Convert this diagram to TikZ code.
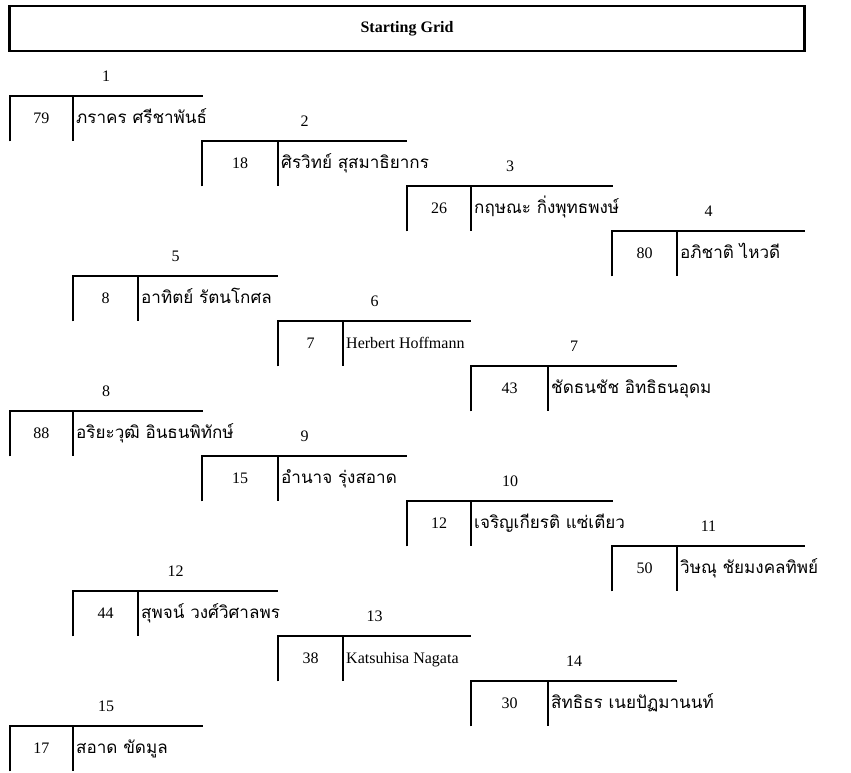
\documentclass[tikz,border=0pt]{standalone}
\usepackage{fontspec}
\setmainfont{Liberation Serif}
\newfontfamily\thaifont[Script=Thai]{Loma}
\usepackage{tikz}
\usetikzlibrary{positioning}
\tikzset{
    titlenode/.style = {draw, rectangle, line width=1.6pt, minimum width=596.25pt, minimum height=33.75pt,
      font=\fontsize{12}{14}\selectfont\bfseries},
    posnode/.style = {draw=none, fill=none, inner sep=0pt, font=\fontsize{12}{14}\selectfont},
    numnode/.style = {draw=none, rectangle, inner sep=0pt, minimum height=33.75pt, minimum width=#1*0.75pt,
      font=\fontsize{12}{14}\selectfont},
    thainode/.style = {draw=none, fill=none, inner sep=2pt, font=\thaifont\fontsize{12.8}{15}\selectfont},
    latinnode/.style = {draw=none, fill=none, inner sep=2pt, font=\fontsize{12}{14}\selectfont},
    gridline/.style = {black, line width=1.6pt}
}

\begin{document}
\begin{tikzpicture}[x=0.75pt, y=-0.75pt]
\useasboundingbox (0,0) rectangle (851,773);
\node [titlenode, name=title] at (407,28.5) {Starting Grid};

\node [posnode, name=pos1] at (106,76) {1};
\node [numnode=63, name=num1] at (41.5,118.5) {79};
\node [thainode, name=driver1, base right=0pt of num1] {ภราคร ศรีชาพันธ์};
\draw [gridline] (num1.south west) |- (num1.north east) -- ++(130,0);
\draw [gridline] (num1.north east) -- (num1.south east);

\node [posnode, name=pos2] at (304.5,121) {2};
\node [numnode=76, name=num2] at (240,163.5) {18};
\node [thainode, name=driver2, base right=0pt of num2] {ศิรวิทย์ สุสมาธิยากร};
\draw [gridline] (num2.south west) |- (num2.north east) -- ++(129,0);
\draw [gridline] (num2.north east) -- (num2.south east);

\node [posnode, name=pos3] at (510,166) {3};
\node [numnode=64, name=num3] at (439,208.5) {26};
\node [thainode, name=driver3, base right=0pt of num3] {กฤษณะ กิ่งพุทธพงษ์};
\draw [gridline] (num3.south west) |- (num3.north east) -- ++(142,0);
\draw [gridline] (num3.north east) -- (num3.south east);

\node [posnode, name=pos4] at (708.5,211) {4};
\node [numnode=65, name=num4] at (644.5,253.5) {80};
\node [thainode, name=driver4, base right=0pt of num4] {อภิชาติ ไหวดี};
\draw [gridline] (num4.south west) |- (num4.north east) -- ++(128,0);
\draw [gridline] (num4.north east) -- (num4.south east);

\node [posnode, name=pos5] at (175.5,256) {5};
\node [numnode=65, name=num5] at (105.5,298.5) {8};
\node [thainode, name=driver5, base right=0pt of num5] {อาทิตย์ รัตนโกศล};
\draw [gridline] (num5.south west) |- (num5.north east) -- ++(140,0);
\draw [gridline] (num5.north east) -- (num5.south east);

\node [posnode, name=pos6] at (374.5,301) {6};
\node [numnode=65, name=num6] at (310.5,343.5) {7};
\node [latinnode, name=driver6, base right=0pt of num6] {Herbert Hoffmann};
\draw [gridline] (num6.south west) |- (num6.north east) -- ++(128,0);
\draw [gridline] (num6.north east) -- (num6.south east);

\node [posnode, name=pos7] at (574,346) {7};
\node [numnode=77, name=num7] at (509.5,388.5) {43};
\node [thainode, name=driver7, base right=0pt of num7] {ชัดธนชัช อิทธิธนอุดม};
\draw [gridline] (num7.south west) |- (num7.north east) -- ++(129,0);
\draw [gridline] (num7.north east) -- (num7.south east);

\node [posnode, name=pos8] at (106,391) {8};
\node [numnode=63, name=num8] at (41.5,433.5) {88};
\node [thainode, name=driver8, base right=0pt of num8] {อริยะวุฒิ อินธนพิทักษ์};
\draw [gridline] (num8.south west) |- (num8.north east) -- ++(130,0);
\draw [gridline] (num8.north east) -- (num8.south east);

\node [posnode, name=pos9] at (304.5,436) {9};
\node [numnode=76, name=num9] at (240,478.5) {15};
\node [thainode, name=driver9, base right=0pt of num9] {อำนาจ รุ่งสอาด};
\draw [gridline] (num9.south west) |- (num9.north east) -- ++(129,0);
\draw [gridline] (num9.north east) -- (num9.south east);

\node [posnode, name=pos10] at (510,481) {10};
\node [numnode=64, name=num10] at (439,523.5) {12};
\node [thainode, name=driver10, base right=0pt of num10] {เจริญเกียรติ แซ่เตียว};
\draw [gridline] (num10.south west) |- (num10.north east) -- ++(142,0);
\draw [gridline] (num10.north east) -- (num10.south east);

\node [posnode, name=pos11] at (708.5,526) {11};
\node [numnode=65, name=num11] at (644.5,568.5) {50};
\node [thainode, name=driver11, base right=0pt of num11] {วิษณุ ชัยมงคลทิพย์};
\draw [gridline] (num11.south west) |- (num11.north east) -- ++(128,0);
\draw [gridline] (num11.north east) -- (num11.south east);

\node [posnode, name=pos12] at (175.5,571) {12};
\node [numnode=65, name=num12] at (105.5,613.5) {44};
\node [thainode, name=driver12, base right=0pt of num12] {สุพจน์ วงศ์วิศาลพร};
\draw [gridline] (num12.south west) |- (num12.north east) -- ++(140,0);
\draw [gridline] (num12.north east) -- (num12.south east);

\node [posnode, name=pos13] at (374.5,616) {13};
\node [numnode=65, name=num13] at (310.5,658.5) {38};
\node [latinnode, name=driver13, base right=0pt of num13] {Katsuhisa Nagata};
\draw [gridline] (num13.south west) |- (num13.north east) -- ++(128,0);
\draw [gridline] (num13.north east) -- (num13.south east);

\node [posnode, name=pos14] at (574,661) {14};
\node [numnode=77, name=num14] at (509.5,703.5) {30};
\node [thainode, name=driver14, base right=0pt of num14] {สิทธิธร เนยปัฏมานนท์};
\draw [gridline] (num14.south west) |- (num14.north east) -- ++(129,0);
\draw [gridline] (num14.north east) -- (num14.south east);

\node [posnode, name=pos15] at (106,706) {15};
\node [numnode=63, name=num15] at (41.5,748.5) {17};
\node [thainode, name=driver15, base right=0pt of num15] {สอาด ขัดมูล};
\draw [gridline] (num15.south west) |- (num15.north east) -- ++(130,0);
\draw [gridline] (num15.north east) -- (num15.south east);
\end{tikzpicture}
\end{document}
